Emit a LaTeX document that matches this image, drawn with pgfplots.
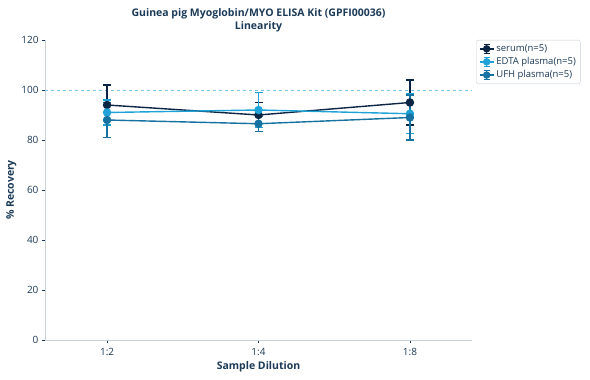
\documentclass[border=0pt]{standalone}
\usepackage{pgfplots}
\pgfplotsset{compat=1.18}
\usepackage{fontspec}
\setmainfont{Open Sans}
\definecolor{txt}{HTML}{1B3A57}
\definecolor{cserum}{HTML}{0B2545}
\definecolor{cedta}{HTML}{1FA2D8}
\definecolor{cufh}{HTML}{1672A0}
\definecolor{axc}{HTML}{C8D0D8}
\pgfplotsset{errleg/.style={legend image code/.code={
  \draw[line width=1.4pt] (0pt,0pt) -- (14pt,0pt);
  \draw[line width=1.2pt] (7pt,-4.5pt) -- (7pt,4.5pt);
  \draw[line width=1.2pt] (4pt,-4.5pt) -- (10pt,-4.5pt);
  \draw[line width=1.2pt] (4pt,4.5pt) -- (10pt,4.5pt);
  \fill (7pt,0pt) circle (3pt);
}}}
\begin{document}
\begin{tikzpicture}
\useasboundingbox (-45pt,-40pt) rectangle (545pt,340pt);
\begin{axis}[
  at={(0,0)}, anchor=south west,
  width=427pt, height=300pt, scale only axis,
  xmin=-0.41, xmax=2.41, ymin=0, ymax=120,
  xtick={0,1,2}, xticklabels={1:2,1:4,1:8},
  ytick={0,20,40,60,80,100,120},
  axis x line*=bottom, axis y line*=left,
  axis line style={axc, line width=0.8pt},
  tick style={txt, line width=0.6pt},
  major tick length=3pt,
  tick align=outside,
  ticklabel style={font=\fontsize{10}{12}\selectfont, text=txt},
  xticklabel style={yshift=-2pt},
  /pgf/number format/assume math mode=true,
  xlabel={\textbf{Sample Dilution}},
  ylabel={\textbf{\% Recovery}},
  label style={font=\fontsize{10.5}{12}\selectfont, text=txt},
  xlabel style={yshift=1pt},
  ylabel style={yshift=-2pt},
  title={\textbf{Guinea pig Myoglobin/MYO ELISA Kit (GPFI00036)}\\\textbf{Linearity}},
  title style={font=\fontsize{10.5}{13.5}\selectfont, text=txt, align=center, yshift=-2pt},
  legend style={at={(1.01,1)}, anchor=north west, font=\fontsize{9.5}{11}\selectfont, text=txt, draw=axc, rounded corners=2pt, row sep=0.5pt, inner sep=2.5pt},
  legend cell align=left,
  clip=false,
]
\addplot[cedta!60, dashed, line width=0.6pt, forget plot] coordinates {(-0.41,100) (2.41,100)};
\addplot[cserum, line width=1.4pt, mark=*, mark size=3.5pt, errleg,
  error bars/.cd, y dir=both, y explicit, error bar style={line width=1.4pt}, error mark options={rotate=90, mark size=4pt, line width=1.4pt}]
  coordinates {(0,94) +- (0,8) (1,90) +- (0,5) (2,95) +- (0,9)};
\addlegendentry{serum(n=5)}
\addplot[cedta, line width=1.4pt, mark=*, mark size=3.5pt, errleg,
  error bars/.cd, y dir=both, y explicit, error bar style={line width=1.4pt}, error mark options={rotate=90, mark size=4pt, line width=1.4pt}]
  coordinates {(0,91) +- (0,5) (1,92) +- (0,7) (2,90.5) +- (0,8)};
\addlegendentry{EDTA plasma(n=5)}
\addplot[cufh, line width=1.4pt, mark=*, mark size=3.5pt, errleg,
  error bars/.cd, y dir=both, y explicit, error bar style={line width=1.4pt}, error mark options={rotate=90, mark size=4pt, line width=1.4pt}]
  coordinates {(0,88) +- (0,7) (1,86.5) +- (0,3) (2,89) +- (0,9)};
\addlegendentry{UFH plasma(n=5)}
\end{axis}
\end{tikzpicture}
\end{document}
